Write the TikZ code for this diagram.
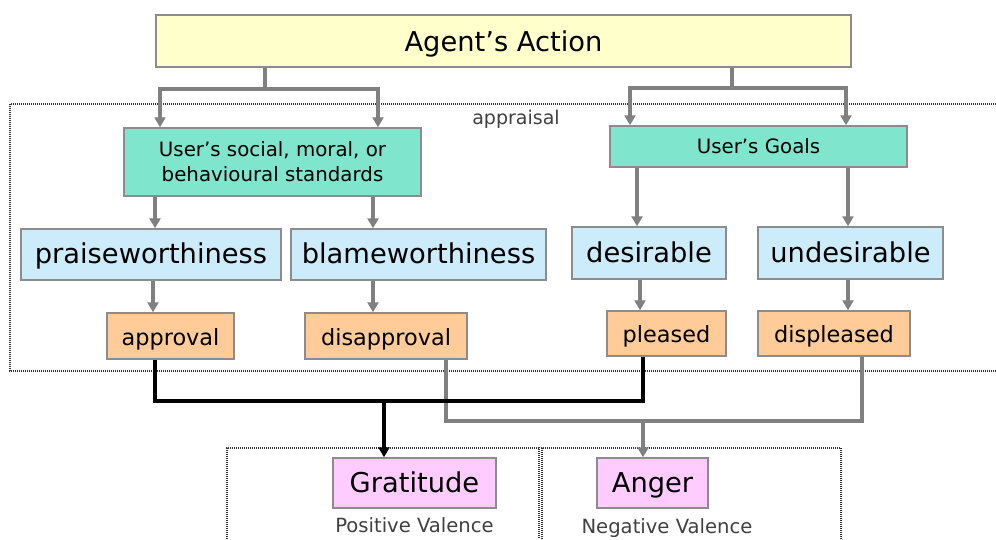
\documentclass[tikz,border=0pt]{standalone}
\usepackage{fontspec}
\setmainfont{DejaVu Sans}
\usetikzlibrary{arrows.meta}
\definecolor{yel}{HTML}{FFFFCC}
\definecolor{tealbox}{HTML}{80E5CD}
\definecolor{bluebox}{HTML}{CCEBFB}
\definecolor{orangebox}{HTML}{FFCC99}
\definecolor{pinkbox}{HTML}{FFCCFF}
\definecolor{bordergray}{HTML}{8C8C8C}
\definecolor{conngray}{HTML}{808080}
\definecolor{dotgray}{HTML}{333333}
\definecolor{subtext}{HTML}{404040}
\begin{document}
\begin{tikzpicture}[x=1pt,y=-1pt,
  box/.style={draw=bordergray, line width=1.5pt, rectangle, inner sep=0pt, align=center},
  bigtxt/.style={font=\fontsize{27.3}{32}\selectfont, text height=20pt, text depth=2pt},
  midtxt/.style={font=\fontsize{22.4}{27}\selectfont, text height=19pt, text depth=1pt},
  smalltxt/.style={font=\fontsize{19.8}{25}\selectfont},
  gline/.style={draw=conngray, line width=4pt},
  garr/.style={gline, -{Triangle[length=10pt,width=11pt]}},
  bline/.style={draw=black, line width=3.5pt},
  barr/.style={bline, -{Triangle[length=10pt,width=11pt]}},
  dotline/.style={draw=dotgray, line width=1.2pt, dash pattern=on 1pt off 1pt},
  subtitle/.style={text=subtext, inner sep=0pt, anchor=base, font=\fontsize{19.6}{24}\selectfont}
]
\useasboundingbox (0,0) rectangle (996,539);

% dotted frames
\draw[dotline] (996,104) -- (10,104) -- (10,371) -- (996,371);
\draw[dotline] (227,539) -- (227,448) -- (539,448) -- (539,539);
\draw[dotline] (542,539) -- (542,448) -- (841,448) -- (841,539);
\node[subtitle, font=\fontsize{19}{23}\selectfont] (appraisal) at (516,124) {appraisal};

% boxes
\node[box, fill=yel, bigtxt, text height=21pt, text depth=1pt, minimum width=695pt, minimum height=52pt] (act) at (503.5,41) {Agent’s Action};
\node[box, fill=tealbox, smalltxt, minimum width=297pt, minimum height=68pt] (std) at (272.5,162) {User’s social, moral, or\\behavioural standards};
\node[box, fill=tealbox, smalltxt, minimum width=297pt, minimum height=41pt] (goals) at (758.5,146.5) {User’s Goals};
\node[box, fill=bluebox, bigtxt, minimum width=260pt, minimum height=51pt] (praise) at (151,254.5) {praiseworthiness};
\node[box, fill=bluebox, bigtxt, minimum width=255pt, minimum height=51pt] (blame) at (418.5,254.5) {blameworthiness};
\node[box, fill=bluebox, bigtxt, minimum width=154pt, minimum height=52pt] (des) at (649,253) {desirable};
\node[box, fill=bluebox, bigtxt, minimum width=185pt, minimum height=52pt] (undes) at (850.5,253) {undesirable};
\node[box, fill=orangebox, midtxt, minimum width=127pt, minimum height=46pt] (appr) at (170.5,336) {approval};
\node[box, fill=orangebox, midtxt, minimum width=162pt, minimum height=46pt] (disappr) at (386,336) {disapproval};
\node[box, fill=orangebox, midtxt, minimum width=119pt, minimum height=45pt] (pleased) at (666.5,333.5) {pleased};
\node[box, fill=orangebox, midtxt, minimum width=152pt, minimum height=45pt] (displ) at (834,333.5) {displeased};
\node[box, fill=pinkbox, bigtxt, minimum width=163pt, minimum height=50pt] (grat) at (414.5,483) {Gratitude};
\node[box, fill=pinkbox, bigtxt, minimum width=111pt, minimum height=50pt] (anger) at (652.5,483) {Anger};
\node[subtitle] (pos) at (414.5,532) {Positive Valence};
\node[subtitle] (neg) at (667,533) {Negative Valence};

% connectors from Agent's Action
\coordinate (j1) at (265,89);
\coordinate (j2) at (732,88);
\draw[gline] (j1 |- act.south) -- (j1);
\draw[garr] (j1) -| (160,0 |- std.north);
\draw[garr] (j1) -| (378,0 |- std.north);
\draw[gline] (j2 |- act.south) -- (j2);
\draw[garr] (j2) -| (630,0 |- goals.north);
\draw[garr] (j2) -| (846,0 |- goals.north);

% standards / goals to appraisal results
\draw[garr] (155,0 |- std.south) -- (155,0 |- praise.north);
\draw[garr] (373,0 |- std.south) -- (373,0 |- blame.north);
\draw[garr] (637,0 |- goals.south) -- (637,0 |- des.north);
\draw[garr] (848,0 |- goals.south) -- (848,0 |- undes.north);

\draw[garr] (153,0 |- praise.south) -- (153,0 |- appr.north);
\draw[garr] (373,0 |- blame.south) -- (373,0 |- disappr.north);
\draw[garr] (640,0 |- des.south) -- (640,0 |- pleased.north);
\draw[garr] (848,0 |- undes.south) -- (848,0 |- displ.north);

% negative path (gray)
\coordinate (g1) at (643,421);
\draw[gline] (446,0 |- disappr.south) |- (862,421) -- (862,0 |- displ.south);
\draw[garr] (g1) -- (g1 |- anger.north);

% positive path (black)
\coordinate (b1) at (384,401);
\draw[bline] (155,0 |- appr.south) |- (643,401) -- (643,0 |- pleased.south);
\draw[barr] (b1) -- (b1 |- grat.north);
\end{tikzpicture}
\end{document}
